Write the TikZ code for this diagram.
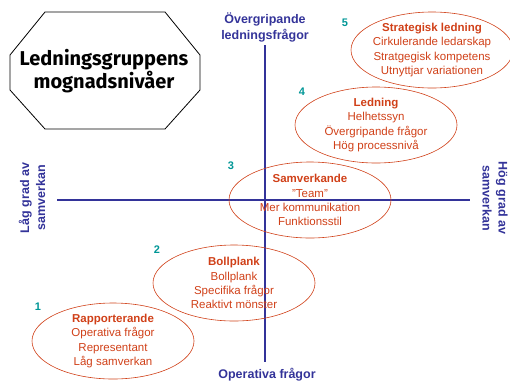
\documentclass[tikz,border=0pt]{standalone}
\usepackage{fontspec}
\setmainfont{Liberation Sans}
\newfontfamily\titlefont{Fira Sans}
\usetikzlibrary{shapes.geometric}
\definecolor{axisblue}{RGB}{51,51,153}
\definecolor{stagered}{RGB}{208,64,24}
\definecolor{numteal}{RGB}{0,150,150}
\tikzset{
  stage/.style={ellipse, draw=stagered, semithick, minimum width=162pt, minimum height=76pt, inner sep=0pt},
  stagetext/.style={text=stagered, align=center, font=\fontsize{11.5}{14.2}\selectfont},
  stagenum/.style={text=numteal, font=\bfseries\fontsize{11}{13}\selectfont},
  axislabel/.style={text=axisblue, align=center, font=\bfseries\fontsize{12.5}{16}\selectfont}
}
\begin{document}
\begin{tikzpicture}[x=1pt, y=-1pt]
        \useasboundingbox (0,0) rectangle (510,381);
        % title box
        \draw[thick] (45,12) -- (165,12) -- (200,55) -- (200,90) -- (165,129) -- (45,129) -- (10,90) -- (10,55) -- cycle;
        \node[align=center, font=\titlefont\bfseries\fontsize{20}{23}\selectfont] (title) at (104,71) {Ledningsgruppens\\mognadsnivåer};
        % axes
        \coordinate (ytop) at (265,45);
        \coordinate (ybot) at (265,362);
        \coordinate (xleft) at (57,200);
        \coordinate (xright) at (470,200);
        \draw[axisblue, line width=1.3pt] (ytop) -- (ybot);
        \draw[axisblue, line width=1.3pt] (xleft) -- (xright);
        \node[axislabel] (top) at (265,27) {Övergripande\\ledningsfrågor};
        \node[axislabel] (bottom) at (267,375) {Operativa frågor};
        \node[axislabel, rotate=90] (left) at (32,198) {Låg grad av\\samverkan};
        \node[axislabel, rotate=-90] (right) at (495,198) {Hög grad av\\samverkan};
        % stages
        \node[stage] (s1) at (113,341) {};
        \node[stagetext] (t1) at (s1) {\textbf{Rapporterande}\\Operativa frågor\\Representant\\Låg samverkan};
        \node[stagenum] (n1) at (38,307) {1};
        \node[stage] (s2) at (234,283) {};
        \node[stagetext] (t2) at (s2) {\textbf{Bollplank}\\Bollplank\\Specifika frågor\\Reaktivt mönster};
        \node[stagenum] (n2) at (157,250) {2};
        \node[stage] (s3) at (310,200) {};
        \node[stagetext] (t3) at (s3) {\textbf{Samverkande}\\"Team"\\Mer kommunikation\\Funktionsstil};
        \node[stagenum] (n3) at (231,166) {3};
        \node[stage] (s4) at (376,125) {};
        \node[stagetext] (t4) at (s4) {\textbf{Ledning}\\Helhetssyn\\Övergripande frågor\\Hög processnivå};
        \node[stagenum] (n4) at (302,92) {4};
        \node[stage] (s5) at (432,50) {};
        \node[stagetext] (t5) at (s5) {\textbf{Strategisk ledning}\\Cirkulerande ledarskap\\Stratgegisk kompetens\\Utnyttjar variationen};
        \node[stagenum] (n5) at (345,23) {5};
    \end{tikzpicture}
\end{document}
